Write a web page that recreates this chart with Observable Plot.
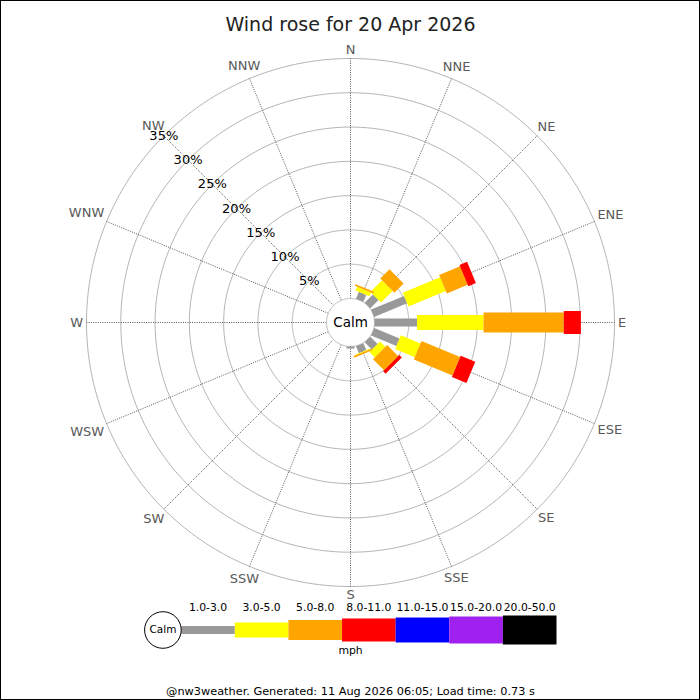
<!DOCTYPE html>
<html>
<head>
<meta charset="utf-8">
<script src="https://cdn.jsdelivr.net/npm/d3@7"></script>
<script src="https://cdn.jsdelivr.net/npm/@observablehq/plot@0.6"></script>
<style>
html, body { margin: 0; padding: 0; background: #fff; }
#wrap { position: relative; width: 700px; height: 700px; overflow: hidden; background: #fff; font-family: "DejaVu Sans", sans-serif; }
#main { position: absolute; left: 0; top: 0; }
#legend { position: absolute; left: 0; top: 593px; }
#frame { position: absolute; left: 0; top: 0; width: 700px; height: 700px; box-sizing: border-box; border: 1px solid #000; pointer-events: none; }
</style>
</head>
<body>
<div id="wrap">
  <div id="main"></div>
  <div id="legend"></div>
  <div id="frame"></div>
</div>
<script>
// ---------- data ----------
const title = "Wind rose for 20 Apr 2026";
const footer = "@nw3weather. Generated: 11 Aug 2026 06:05; Load time: 0.73 s";
const unit = "mph";
const calmLabel = "Calm";
const directions = ["N","NNE","NE","ENE","E","ESE","SE","SSE","S","SSW","SW","WSW","W","WNW","NW","NNW"];
const speedBins = ["1.0-3.0","3.0-5.0","5.0-8.0","8.0-11.0","11.0-15.0","15.0-20.0","20.0-50.0"];
// percent of time per direction (N, NNE, ... NNW) for each speed bin
const pct_1_3   = [0, 1.1, 1.7, 5.2, 6.2, 4.0, 1.5, 1.1, 0.3, 0, 0, 0, 0, 0, 0, 0];
const pct_3_5   = [0, 0.6, 2.4, 5.9, 9.7, 3.1, 1.1, 0.1, 0,   0, 0, 0, 0, 0, 0, 0];
const pct_5_8   = [0, 0.25, 1.9, 3.3, 11.7, 6.1, 2.3, 0.25, 0, 0, 0, 0, 0, 0, 0, 0];
const pct_8_11  = [0, 0,   0,   1.2, 2.5, 2.3, 0.5, 0,   0,   0, 0, 0, 0, 0, 0, 0];
const pct_11_15 = [0, 0,   0,   0,   0,   0,   0,   0,   0,   0, 0, 0, 0, 0, 0, 0];
const pct_15_20 = [0, 0,   0,   0,   0,   0,   0,   0,   0,   0, 0, 0, 0, 0, 0, 0];
const pct_20_50 = [0, 0,   0,   0,   0,   0,   0,   0,   0,   0, 0, 0, 0, 0, 0, 0];
const ringTicks = [5, 10, 15, 20, 25, 30, 35];

// ---------- style ----------
const binColors = ["#999999", "#ffff00", "#ffa500", "#ff0000", "#0000ff", "#a020f0", "#000000"];
const binWidths = [8, 15, 20, 23, 25, 27, 29];
const calmR = 3.5;           // calm circle radius, in % units of the radial scale
const rMax = d3.max(ringTicks);
const outer = rMax + calmR;
const xRange = [86, 614], yRange = [586, 58];
const pxPerUnit = (xRange[1] - xRange[0]) / (2 * outer);
const FONT = "DejaVu Sans, sans-serif";

// ---------- helpers ----------
const series = [pct_1_3, pct_3_5, pct_5_8, pct_8_11, pct_11_15, pct_15_20, pct_20_50];
const step = 360 / directions.length;
const rad = d => d * Math.PI / 180;
const px = (p, deg) => (p + calmR) * Math.sin(rad(deg));
const py = (p, deg) => (p + calmR) * Math.cos(rad(deg));

const segments = [];
directions.forEach((dir, i) => {
  let acc = 0;
  series.forEach((arr, k) => {
    const v = arr[i];
    if (v > 0) segments.push({dir, angle: i * step, bin: k, r0: acc, r1: acc + v});
    acc += v;
  });
});

const ringPts = [];
for (const t of ringTicks) for (let a = 0; a < 360; a += 1) ringPts.push({ring: t, a});
const calmPts = d3.range(0, 360, 1).map(a => ({a}));

// label placement: nearest edge of label box a few px outside the outer ring
const ctx = document.createElement("canvas").getContext("2d");
ctx.font = "13px 'DejaVu Sans'";
const dirLabels = directions.map((d, i) => {
  const a = i * step;
  const hw = ctx.measureText(d).width / 2, hh = 4.7;
  const rpx = outer * pxPerUnit + 3.5 + hw * Math.abs(Math.sin(rad(a))) + hh * Math.abs(Math.cos(rad(a)));
  const r = rpx / pxPerUnit;
  return {d, x: r * Math.sin(rad(a)), y: r * Math.cos(rad(a))};
});

const labelAngle = directions.indexOf("NW") * step;

const marks = [
  Plot.line(ringPts, {x: d => px(d.ring, d.a), y: d => py(d.ring, d.a), z: "ring", curve: "linear-closed", stroke: "#b4b4b4", strokeWidth: 1}),
  Plot.link(directions, {
    x1: (d, i) => px(0, i * step), y1: (d, i) => py(0, i * step),
    x2: (d, i) => px(rMax, i * step), y2: (d, i) => py(rMax, i * step),
    stroke: "#555", strokeWidth: 1, strokeDasharray: "1,1.3"
  }),
  Plot.line(calmPts, {x: d => px(0, d.a), y: d => py(0, d.a), curve: "linear-closed", fill: "white", stroke: "#b4b4b4", strokeWidth: 1}),
  ...binColors.map((c, k) => Plot.link(segments.filter(s => s.bin === k), {
    x1: s => px(s.r0, s.angle), y1: s => py(s.r0, s.angle),
    x2: s => px(s.r1, s.angle), y2: s => py(s.r1, s.angle),
    stroke: c, strokeWidth: binWidths[k], strokeLinecap: "butt"
  })),
  Plot.text(dirLabels, {x: "x", y: "y", text: "d", fill: "#5a5a5a", fontSize: 13, fontFamily: FONT}),
  Plot.text(ringTicks, {x: t => px(t, labelAngle), y: t => py(t, labelAngle), text: t => `${t}%`, fill: "#000", fontSize: 13, fontFamily: FONT}),
  Plot.text([calmLabel], {x: () => 0, y: () => 0, text: d => d, fill: "#000", fontSize: 13.5, fontFamily: FONT}),
  Plot.text([title], {frameAnchor: "top", dy: 17, text: d => d, fill: "#222", fontSize: 19, fontFamily: FONT}),
  Plot.text([unit], {x: () => 0, frameAnchor: "bottom", dy: -46.5, text: d => d, fill: "#000", fontSize: 10.8, fontFamily: FONT}),
  Plot.text([footer], {frameAnchor: "bottom", dy: -5.5, text: d => d, fill: "#000", fontSize: 11.3, fontFamily: FONT})
];

const main = Plot.plot({
  width: 700, height: 700,
  marginTop: 0, marginRight: 0, marginBottom: 0, marginLeft: 0,
  style: {background: "transparent", fontFamily: FONT, overflow: "visible"},
  x: {domain: [-outer, outer], range: xRange, axis: null},
  y: {domain: [-outer, outer], range: yRange, axis: null},
  marks
});
document.getElementById("main").appendChild(main);

// ---------- legend ----------
const legend = Plot.plot({
  width: 700, height: 75,
  marginTop: 0, marginRight: 0, marginBottom: 0, marginLeft: 0,
  style: {background: "transparent", fontFamily: FONT, overflow: "visible"},
  x: {domain: [0, speedBins.length], range: [180.7, 556], axis: null},
  y: {domain: [0, 1], range: [73, 0], axis: null},
  marks: [
    ...binColors.map((c, k) => Plot.link([speedBins[k]], {
      x1: () => k, x2: () => k + 1, y1: () => 0.5, y2: () => 0.5,
      stroke: c, strokeWidth: binWidths[k], strokeLinecap: "butt"
    })),
    Plot.dot([calmLabel], {x: () => 0, y: () => 0.5, r: 18.3, dx: -18.3, fill: "white", stroke: "#000", strokeWidth: 1}),
    Plot.text([calmLabel], {x: () => 0, y: () => 0.5, dx: -18.3, text: d => d, fill: "#000", fontSize: 10.5, fontFamily: FONT}),
    Plot.text(speedBins, {x: (d, i) => i + 0.5, y: () => 0.5, dy: -22.5, text: d => d, fill: "#000", fontSize: 10.8, fontFamily: FONT})
  ]
});
document.getElementById("legend").appendChild(legend);
</script>
</body>
</html>
